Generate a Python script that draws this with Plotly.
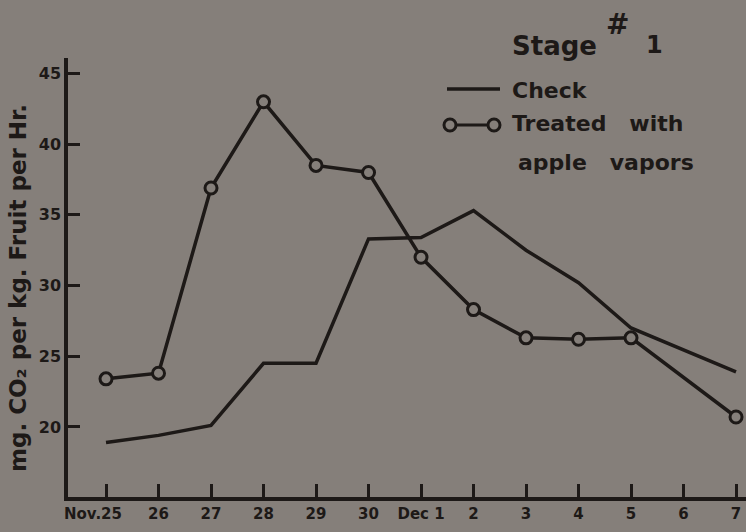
import plotly.graph_objects as go

# ---- data ----
dates = ["Nov.25", "26", "27", "28", "29", "30", "Dec 1", "2", "3", "4", "5", "6", "7"]
check = [18.9, 19.4, 20.1, 24.5, 24.5, 33.3, 33.4, 35.3, 32.5, 30.2, 27.0, None, 23.9]
treated = [23.4, 23.8, 36.9, 43.0, 38.5, 38.0, 32.0, 28.3, 26.3, 26.2, 26.3, None, 20.7]
y_ticks = [20, 25, 30, 35, 40, 45]

BG = "#857f7a"
INK = "#1d1917"
FONT = "DejaVu Sans"

W, H = 746, 532
ML, MR, MT, MB = 68, 0, 58, 35
PW, PH = W - ML - MR, H - MT - MB

def px(x):
    return (x - ML) / PW

def py(y):
    return (H - MB - y) / PH

xs = list(range(len(dates)))
ticktext = [d if d != "Nov.25" else "Nov.25\u00a0\u00a0\u00a0\u00a0\u00a0" for d in dates]

fig = go.Figure()
fig.add_trace(go.Scatter(
    x=xs, y=check, mode="lines", connectgaps=True,
    line=dict(color=INK, width=3.5), name="Check", showlegend=False,
))
fig.add_trace(go.Scatter(
    x=xs, y=treated, mode="lines+markers", connectgaps=True,
    line=dict(color=INK, width=3.5),
    marker=dict(symbol="circle", size=12, color=BG, line=dict(color=INK, width=3)),
    name="Treated with apple vapors", showlegend=False,
))

# legend samples (drawn by hand, as in the original)
shapes = [
    dict(type="line", xref="paper", yref="paper", x0=px(447), x1=px(500), y0=py(89), y1=py(89),
         line=dict(color=INK, width=3.5)),
    dict(type="line", xref="paper", yref="paper", x0=px(450), x1=px(494), y0=py(125), y1=py(125),
         line=dict(color=INK, width=3)),
]
for cx in (450, 494):
    r = 6
    shapes.append(dict(type="circle", xref="paper", yref="paper",
                       x0=px(cx - r), x1=px(cx + r), y0=py(125 + r), y1=py(125 - r),
                       fillcolor=BG, line=dict(color=INK, width=3)))

annotations = [
    dict(text="Stage", x=px(510), y=py(46), xanchor="left", yanchor="middle",
         font=dict(size=26, family=FONT, color=INK, weight="bold")),
    dict(text="#", x=px(604), y=py(25), xanchor="left", yanchor="middle",
         font=dict(size=28, family=FONT, color=INK, weight="bold")),
    dict(text="1", x=px(644), y=py(45), xanchor="left", yanchor="middle",
         font=dict(size=24, family=FONT, color=INK, weight="bold")),
    dict(text="Check", x=px(510), y=py(90), xanchor="left", yanchor="middle",
         font=dict(size=22, family=FONT, color=INK, weight="bold")),
    dict(text="Treated\u00a0\u00a0\u00a0with", x=px(510), y=py(124), xanchor="left", yanchor="middle",
         font=dict(size=22, family=FONT, color=INK, weight="bold")),
    dict(text="apple\u00a0\u00a0\u00a0vapors", x=px(516), y=py(162), xanchor="left", yanchor="middle",
         font=dict(size=22, family=FONT, color=INK, weight="bold")),
    dict(text="mg. CO\u2082 per kg. Fruit per Hr.", x=px(18), y=py(288), textangle=-90,
         xanchor="center", yanchor="middle",
         font=dict(size=23, family=FONT, color=INK, weight="bold")),
]
for a in annotations:
    a.update(xref="paper", yref="paper", showarrow=False)

fig.update_layout(
    width=W, height=H,
    margin=dict(l=ML, r=MR, t=MT, b=MB),
    paper_bgcolor=BG, plot_bgcolor=BG,
    shapes=shapes, annotations=annotations,
    showlegend=False,
)
fig.update_xaxes(
    range=[-0.724, 12.19], tickmode="array", tickvals=xs, ticktext=ticktext,
    tickangle=0,
    showgrid=False, zeroline=False, showline=True, linecolor=INK, linewidth=3.5,
    ticks="inside", ticklen=13, tickwidth=3, tickcolor=INK,
    tickfont=dict(size=15, family=FONT, color=INK, weight="bold"),
)
fig.update_yaxes(
    range=[15.04, 46.1], tickmode="array", tickvals=y_ticks,
    showgrid=False, zeroline=False, showline=True, linecolor=INK, linewidth=3.5,
    ticks="inside", ticklen=12, tickwidth=3, tickcolor=INK,
    tickfont=dict(size=16, family=FONT, color=INK, weight="bold"),
)

fig.write_html(
    "out.html",
    config={"displayModeBar": False},
    post_script="document.body.style.margin='0';document.body.style.background='%s';" % BG,
)
